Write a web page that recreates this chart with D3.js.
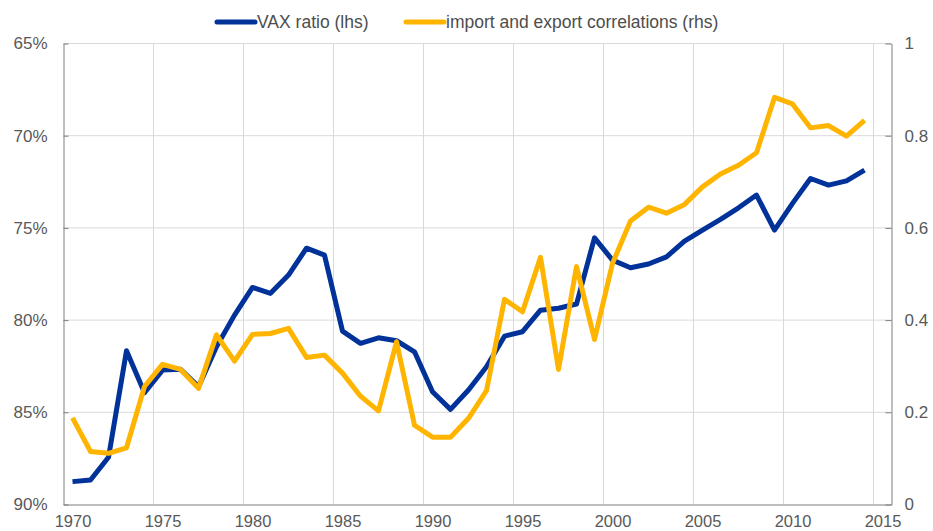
<!DOCTYPE html>
<html>
<head>
<meta charset="utf-8">
<script src="https://cdn.jsdelivr.net/npm/d3@7"></script>
<style>
  html, body { margin: 0; padding: 0; background: #fff; }
  svg { display: block; font-family: Arial, "Liberation Sans", sans-serif; }
  .tick text { fill: #595959; font-size: 17px; }
  .x-axis .tick text { font-size: 16.5px; }
  .legend text { fill: #4d4d4d; font-size: 17.5px; }
</style>
</head>
<body>
<div id="chart"></div>
<script>
// ── Data ─────────────────────────────────────────────────────────────
const years = d3.range(1970, 2015);   // 1970 … 2014, plotted mid-year

// VAX ratio, % (left axis, inverted)
const vaxRatio = [
  88.76, 88.67, 87.44, 81.66, 83.94, 82.71, 82.67, 83.61, 81.45, 79.73,
  78.23, 78.55, 77.56, 76.10, 76.48, 80.60, 81.26, 80.96, 81.12, 81.72,
  83.89, 84.84, 83.79, 82.53, 80.87, 80.63, 79.46, 79.36, 79.13, 75.54,
  76.75, 77.16, 76.96, 76.57, 75.72, 75.12, 74.54, 73.91, 73.22, 75.12,
  73.67, 72.32, 72.68, 72.45, 71.87
];

// import and export correlations (right axis)
const tradeCorr = [
  0.188, 0.115, 0.111, 0.123, 0.256, 0.304, 0.293, 0.252, 0.368, 0.311,
  0.369, 0.371, 0.382, 0.319, 0.324, 0.285, 0.235, 0.203, 0.353, 0.172,
  0.146, 0.146, 0.187, 0.247, 0.445, 0.418, 0.536, 0.293, 0.516, 0.358,
  0.523, 0.615, 0.645, 0.632, 0.651, 0.689, 0.717, 0.736, 0.763, 0.883,
  0.869, 0.817, 0.822, 0.799, 0.833
];

const xTicks     = d3.range(1970, 2016, 5);
const leftTicks  = [65, 70, 75, 80, 85, 90];
const rightTicks = [0, 0.2, 0.4, 0.6, 0.8, 1];

const seriesNames = ['VAX ratio (lhs)', 'import and export correlations (rhs)'];
const BLUE   = '#003299';
const YELLOW = '#ffb400';

// ── Layout ───────────────────────────────────────────────────────────
const W = 933, H = 531;
const margin = { top: 43.5, right: 41.5, bottom: 26.5, left: 63.5 };

const svg = d3.select('#chart').append('svg')
  .attr('width', W).attr('height', H);

const x = d3.scaleLinear()
  .domain([1970, 2016])
  .range([margin.left, W - margin.right]);

const yL = d3.scaleLinear()
  .domain([65, 90])
  .range([margin.top, H - margin.bottom]);

const yR = d3.scaleLinear()
  .domain([0, 1])
  .range([H - margin.bottom, margin.top]);

// ── Grid ─────────────────────────────────────────────────────────────
const grid = svg.append('g').attr('stroke', '#d9d9d9').attr('stroke-width', 1);

grid.selectAll('.hgrid')
  .data(leftTicks.slice(0, -1))
  .join('line')
  .attr('x1', x(1970)).attr('x2', x(2016))
  .attr('y1', d => yL(d)).attr('y2', d => yL(d));

grid.selectAll('.vgrid')
  .data(xTicks.slice(1))
  .join('line')
  .attr('x1', d => x(d)).attr('x2', d => x(d))
  .attr('y1', yL(65)).attr('y2', yL(90));

// ── Axes ─────────────────────────────────────────────────────────────
const styleAxis = g => {
  g.select('.domain').attr('stroke', '#7f7f7f');
  g.selectAll('.tick line').attr('stroke', '#7f7f7f');
  g.selectAll('.tick text').attr('font-size', null).attr('font-family', null);
};

svg.append('g')
  .attr('transform', `translate(${margin.left},0)`)
  .call(d3.axisLeft(yL).tickValues(leftTicks).tickSize(-5).tickSizeOuter(0)
    .tickPadding(16).tickFormat(d => d + '%'))
  .call(styleAxis);

svg.append('g')
  .attr('transform', `translate(${W - margin.right},0)`)
  .call(d3.axisRight(yR).tickValues(rightTicks).tickSize(-6).tickSizeOuter(0)
    .tickPadding(13).tickFormat(d3.format('~g')))
  .call(styleAxis);

// year labels sit in the middle of each year's band
svg.append('g')
  .attr('class', 'x-axis')
  .attr('transform', `translate(0,${H - margin.bottom})`)
  .call(d3.axisBottom(x).tickValues(xTicks.map(d => d + 0.5)).tickSize(0)
    .tickSizeOuter(0).tickPadding(11).tickFormat(d => d - 0.5))
  .call(styleAxis);

// ── Lines ────────────────────────────────────────────────────────────
const lineL = d3.line().x((d, i) => x(years[i] + 0.5)).y(d => yL(d));
const lineR = d3.line().x((d, i) => x(years[i] + 0.5)).y(d => yR(d));

svg.append('path')
  .datum(vaxRatio)
  .attr('d', lineL)
  .attr('fill', 'none')
  .attr('stroke', BLUE)
  .attr('stroke-width', 5)
  .attr('stroke-linejoin', 'round');

svg.append('path')
  .datum(tradeCorr)
  .attr('d', lineR)
  .attr('fill', 'none')
  .attr('stroke', YELLOW)
  .attr('stroke-width', 5)
  .attr('stroke-linejoin', 'round');

// ── Legend ───────────────────────────────────────────────────────────
const legend = svg.append('g').attr('class', 'legend');
const legItems = [
  { name: seriesNames[0], color: BLUE,   x: 217 },
  { name: seriesNames[1], color: YELLOW, x: 406 }
];

legItems.forEach(({ name, color, x: lx }) => {
  legend.append('line')
    .attr('x1', lx).attr('x2', lx + 38)
    .attr('y1', 22).attr('y2', 22)
    .attr('stroke', color).attr('stroke-width', 5)
    .attr('stroke-linecap', 'round');
  legend.append('text')
    .attr('x', lx + 40).attr('y', 28)
    .text(name);
});
</script>
</body>
</html>
